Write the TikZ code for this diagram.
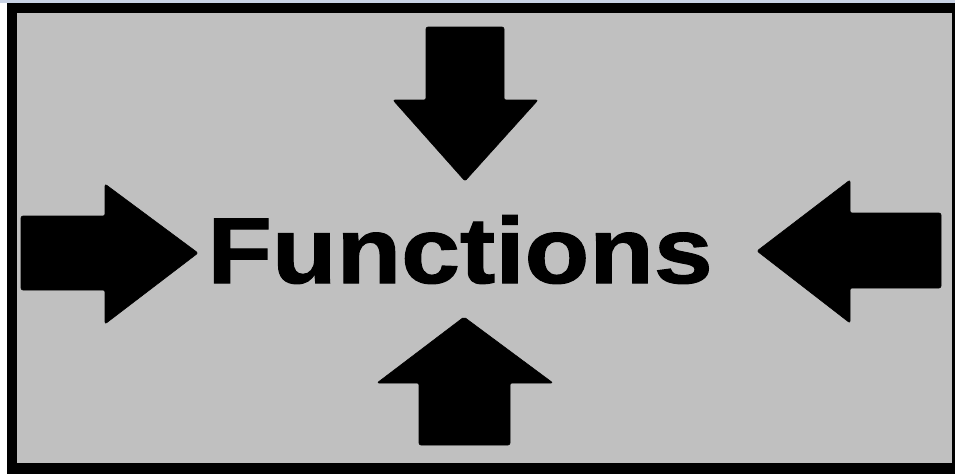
\documentclass[tikz,border=0pt]{standalone}
\usepackage{fontspec}
\newfontfamily\arialbold{Liberation Sans Bold}[FakeBold=1.2]
\definecolor{panel}{RGB}{192,192,192}
\definecolor{topstrip}{RGB}{200,210,228}
\begin{document}
\begin{tikzpicture}[x=1pt,y=-1pt,
  arrowshape/.style={fill=black,draw=black,line width=0.6pt,rounded corners=2pt,line join=round}]
\useasboundingbox (0,0) rectangle (955,474);
\fill[white] (0,0) rectangle (955,474);
\fill[topstrip] (0,0) rectangle (955,3);
% frame
\fill[black] (7,3) rectangle (955,474);
\fill[panel] (17,13) rectangle (952,463);
% top arrow (down)
\draw[arrowshape] (426,27) -- (504,27) -- (504,100) -- (538,100) -- (465,181) -- (393,100) -- (426,100) -- cycle;
% bottom arrow (up)
\draw[arrowshape] (419,445) -- (510,445) -- (510,383) -- (553,383) -- (464,317) -- (377,383) -- (419,383) -- cycle;
% left arrow (right)
\draw[arrowshape] (21,216) -- (105,216) -- (105,184) -- (198,253) -- (105,324) -- (105,290) -- (21,290) -- cycle;
% right arrow (left)
\draw[arrowshape] (941,213) -- (850,213) -- (850,180) -- (757,251) -- (850,323) -- (850,288) -- (941,288) -- cycle;
% title
\node[anchor=base,inner sep=0pt,xscale=1.13,font={\arialbold\fontsize{93.6pt}{100pt}\selectfont}] (title) at (460,283) {Functions};
\end{tikzpicture}
\end{document}
